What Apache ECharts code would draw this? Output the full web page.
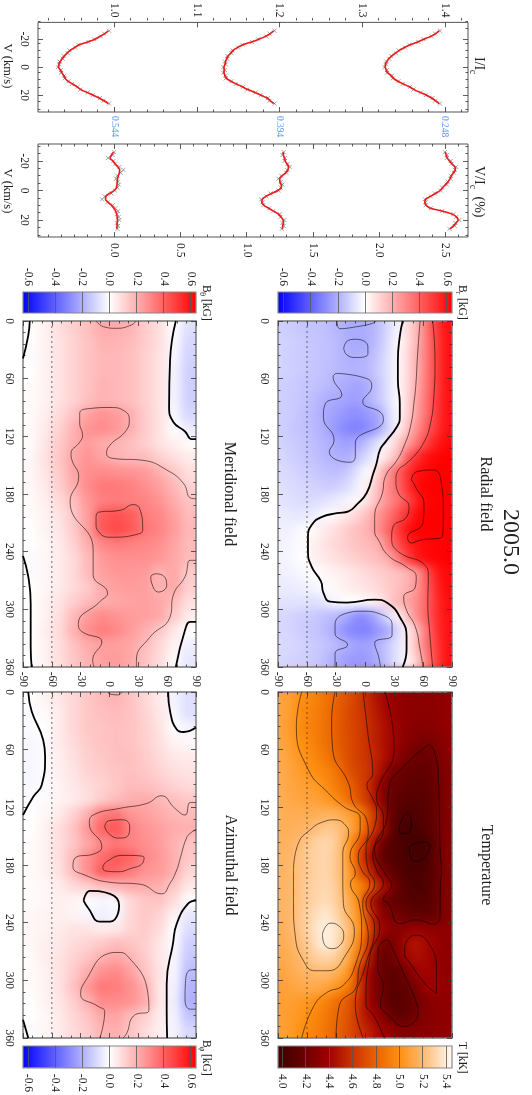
<!DOCTYPE html>
<html>
<head>
<meta charset="utf-8">
<title>2005.0</title>
<script src="https://cdn.jsdelivr.net/npm/echarts@6/dist/echarts.min.js"></script>
<style>
body { margin: 0; background: #fff; }
#heatClip { position: absolute; left: 0; top: 0; width: 532px; height: 1095px;
  clip-path: path('M278 321H452V667H278Z M23 321H196V667H23Z M278 692H452V1038H278Z M23 692H196V1038H23Z'); }
#heat { width: 532px; height: 1095px; filter: blur(5px); }
#main { position: absolute; left: 0; top: 0; width: 532px; height: 1095px; }
</style>
</head>
<body>
<div id="heatClip"><div id="heat"></div></div>
<div id="main"></div>
<script>
// line profiles, velocity in km/s
var velocity = [-26,-24,-22,-20,-18,-16,-14,-12,-10,-8,-6,-4,-2,0,2,4,6,8,10,12,14,16,18,20,22,24,26];
var phaseLabels = ['0.544', '0.394', '0.248'];
var phaseOffsets = [1.0, 1.2, 1.4];

var stokesIFit544 = [.993,.989,.983,.977,.968,.958,.952,.947,.943,.940,.937,.935,.933,.933,.935,.937,.939,.941,.944,.950,.955,.960,.967,.975,.982,.988,.993];
var stokesIFit394 = [1.193,1.189,1.183,1.175,1.166,1.156,1.149,1.144,1.141,1.138,1.136,1.135,1.134,1.133,1.133,1.133,1.134,1.136,1.141,1.148,1.155,1.162,1.170,1.178,1.185,1.189,1.193];
var stokesIFit248 = [1.393,1.389,1.383,1.375,1.367,1.358,1.351,1.345,1.340,1.336,1.332,1.330,1.328,1.328,1.329,1.331,1.335,1.338,1.343,1.350,1.357,1.363,1.370,1.378,1.384,1.389,1.393];
var stokesIObs544 = [.994,.988,.984,.976,.969,.957,.953,.946,.944,.939,.938,.934,.934,.932,.936,.936,.940,.940,.945,.949,.956,.959,.968,.974,.983,.987,.994];
var stokesIObs394 = [1.194,1.188,1.184,1.174,1.167,1.155,1.150,1.143,1.142,1.137,1.137,1.134,1.135,1.132,1.134,1.132,1.135,1.135,1.142,1.147,1.156,1.161,1.171,1.177,1.186,1.188,1.194];
var stokesIObs248 = [1.394,1.388,1.384,1.374,1.368,1.357,1.352,1.344,1.341,1.335,1.333,1.329,1.329,1.327,1.330,1.330,1.336,1.337,1.344,1.349,1.358,1.362,1.371,1.377,1.385,1.388,1.394];

var stokesVFit544 = [-.005,-.02,-.03,-.01,.008,.028,.042,.04,.032,.026,.024,.022,.018,0,-.035,-.062,-.065,-.045,-.02,-.002,.012,.02,.023,.025,.024,.022,.02];
var stokesVFit394 = [1.274,1.278,1.284,1.292,1.304,1.315,1.312,1.295,1.268,1.25,1.25,1.26,1.263,1.235,1.19,1.145,1.118,1.115,1.13,1.165,1.205,1.24,1.26,1.275,1.278,1.272,1.27];
var stokesVFit248 = [2.50,2.505,2.515,2.53,2.55,2.57,2.575,2.56,2.545,2.535,2.52,2.50,2.48,2.46,2.425,2.385,2.35,2.344,2.355,2.385,2.48,2.55,2.585,2.595,2.58,2.56,2.535];
var stokesVObs544 = [0,-.01,-.045,-.005,.01,.04,.07,.05,.025,.015,.03,.035,.025,.005,-.02,-.07,-.09,-.05,-.01,.01,.03,.02,.035,.04,.02,.03,.025];
var stokesVObs394 = [1.28,1.27,1.29,1.285,1.31,1.325,1.305,1.30,1.26,1.24,1.26,1.27,1.255,1.24,1.18,1.15,1.11,1.12,1.125,1.17,1.20,1.25,1.255,1.285,1.27,1.28,1.265];
var stokesVObs248 = [2.495,2.51,2.51,2.54,2.545,2.58,2.57,2.565,2.54,2.54,2.515,2.51,2.475,2.465,2.42,2.39,2.345,2.35,2.35,2.39,2.475,2.56,2.58,2.605,2.575,2.57,2.53];

// maps: one row per 15 deg of longitude (top to bottom in the picture), values run from south to north
var radialField = [
  [-.12,-.13,-.14,-.15,-.15,-.17,-.19,-.21,-.21,-.2,-.16,-.09,-.02,.09,.19,.36,.5,.6],
  [-.11,-.12,-.13,-.14,-.15,-.16,-.18,-.21,-.22,-.2,-.15,-.08,0,.09,.2,.35,.49,.6],
  [-.11,-.12,-.13,-.14,-.15,-.16,-.18,-.2,-.2,-.18,-.13,-.07,.01,.1,.21,.35,.49,.6],
  [-.11,-.12,-.13,-.14,-.15,-.17,-.18,-.19,-.19,-.17,-.12,-.07,.01,.1,.21,.35,.49,.6],
  [-.12,-.13,-.14,-.15,-.16,-.18,-.2,-.22,-.23,-.2,-.14,-.07,.01,.1,.22,.36,.49,.6],
  [-.12,-.13,-.14,-.16,-.19,-.21,-.22,-.24,-.24,-.19,-.14,-.07,0,.11,.24,.37,.5,.6],
  [-.12,-.13,-.15,-.17,-.2,-.23,-.25,-.28,-.28,-.25,-.22,-.09,-.01,.12,.25,.38,.5,.6],
  [-.12,-.14,-.15,-.17,-.19,-.24,-.28,-.31,-.32,-.28,-.22,-.1,.02,.17,.29,.41,.52,.6],
  [-.11,-.13,-.14,-.16,-.18,-.2,-.23,-.24,-.2,-.14,-.06,.02,.14,.24,.36,.49,.57,.62],
  [-.1,-.12,-.13,-.15,-.17,-.19,-.2,-.2,-.13,-.07,.01,.1,.19,.43,.53,.6,.63,.64],
  [-.09,-.1,-.12,-.13,-.15,-.16,-.16,-.12,-.05,0,.13,.27,.4,.52,.6,.62,.64,.64],
  [-.08,-.09,-.1,-.11,-.12,-.13,-.11,-.08,-.02,.05,.18,.3,.39,.52,.62,.64,.64,.64],
  [-.07,-.08,-.09,-.09,-.08,-.06,-.04,-.02,.02,.09,.2,.29,.36,.46,.57,.63,.64,.64],
  [-.05,-.06,-.06,-.05,-.02,.01,.04,.07,.12,.18,.27,.35,.44,.53,.62,.64,.64,.64],
  [-.04,-.03,-.01,.01,.04,.07,.1,.14,.17,.2,.29,.39,.5,.6,.64,.64,.64,.64],
  [-.03,-.02,.01,.03,.06,.09,.11,.14,.16,.18,.2,.34,.45,.55,.6,.62,.63,.64],
  [-.03,-.02,0,.03,.05,.07,.09,.11,.13,.15,.17,.21,.34,.48,.58,.62,.63,.64],
  [-.04,-.03,-.02,-.01,.01,.03,.04,.06,.08,.1,.12,.14,.16,.19,.26,.44,.58,.62],
  [-.05,-.05,-.04,-.03,-.01,.01,.03,.05,.06,.08,.1,.13,.16,.2,.27,.41,.55,.62],
  [-.07,-.07,-.07,-.08,-.07,-.03,-.01,0,.01,.02,.05,.12,.19,.23,.3,.4,.53,.61],
  [-.1,-.11,-.12,-.13,-.15,-.17,-.19,-.24,-.3,-.26,-.18,-.07,.03,.17,.3,.41,.53,.6],
  [-.1,-.11,-.13,-.14,-.16,-.19,-.25,-.3,-.31,-.31,-.25,-.21,-.08,.04,.18,.37,.52,.6],
  [-.09,-.1,-.11,-.13,-.14,-.16,-.19,-.21,-.24,-.23,-.19,-.13,-.06,.04,.2,.37,.5,.6],
  [-.1,-.11,-.12,-.13,-.15,-.19,-.22,-.25,-.26,-.24,-.2,-.13,-.06,.02,.14,.33,.49,.6]
];
var temperature = [
  [5.10,5.05,5.00,4.96,4.91,4.84,4.77,4.71,4.63,4.54,4.45,4.38,4.35,4.33,4.32,4.32,4.33,4.35],
  [5.10,5.05,4.98,4.94,4.90,4.83,4.76,4.69,4.63,4.56,4.48,4.41,4.35,4.33,4.32,4.32,4.33,4.35],
  [5.10,5.03,4.97,4.93,4.89,4.83,4.75,4.69,4.64,4.57,4.50,4.43,4.36,4.32,4.30,4.30,4.32,4.35],
  [5.10,5.05,5.00,4.95,4.89,4.83,4.76,4.70,4.64,4.57,4.50,4.43,4.36,4.30,4.26,4.24,4.28,4.33],
  [5.12,5.07,5.02,4.98,4.92,4.86,4.78,4.70,4.64,4.58,4.52,4.42,4.33,4.24,4.19,4.18,4.24,4.32],
  [5.13,5.09,5.05,5.01,4.97,4.92,4.84,4.72,4.66,4.60,4.47,4.30,4.20,4.17,4.15,4.15,4.21,4.30],
  [5.13,5.10,5.08,5.06,5.02,4.95,4.88,4.80,4.68,4.57,4.38,4.21,4.16,4.14,4.13,4.14,4.20,4.30],
  [5.14,5.11,5.10,5.09,5.07,5.02,4.95,4.84,4.72,4.59,4.38,4.20,4.13,4.10,4.10,4.12,4.19,4.30],
  [5.15,5.14,5.14,5.14,5.15,5.17,5.13,5.08,4.96,4.74,4.52,4.22,4.08,4.06,4.08,4.11,4.19,4.30],
  [5.15,5.15,5.17,5.20,5.24,5.26,5.22,5.12,4.96,4.70,4.52,4.24,4.04,4.01,4.05,4.10,4.19,4.30],
  [5.16,5.18,5.22,5.27,5.31,5.31,5.22,5.02,4.76,4.54,4.28,4.12,4.07,4.03,4.00,4.03,4.17,4.30],
  [5.17,5.20,5.24,5.28,5.31,5.30,5.21,5.00,4.68,4.46,4.19,4.10,4.06,4.03,4.01,4.04,4.17,4.30],
  [5.17,5.20,5.24,5.28,5.31,5.30,5.21,5.06,4.74,4.56,4.33,4.18,4.10,4.05,4.04,4.07,4.17,4.30],
  [5.17,5.20,5.25,5.29,5.31,5.31,5.23,5.04,4.96,4.80,4.54,4.33,4.17,4.07,4.05,4.07,4.17,4.30],
  [5.17,5.20,5.25,5.29,5.33,5.32,5.24,5.12,4.94,4.52,4.30,4.19,4.14,4.10,4.08,4.10,4.18,4.30],
  [5.17,5.20,5.26,5.31,5.37,5.37,5.26,5.15,5.00,4.62,4.36,4.27,4.23,4.17,4.15,4.13,4.19,4.30],
  [5.15,5.19,5.26,5.33,5.40,5.43,5.32,5.19,5.02,4.68,4.44,4.33,4.31,4.34,4.38,4.35,4.34,4.33],
  [5.14,5.17,5.23,5.30,5.39,5.42,5.30,5.15,4.93,4.60,4.27,4.20,4.32,4.45,4.48,4.42,4.36,4.33],
  [5.12,5.15,5.20,5.26,5.30,5.30,5.24,5.08,4.84,4.50,4.18,4.17,4.28,4.41,4.46,4.42,4.35,4.33],
  [5.10,5.13,5.17,5.18,5.20,5.19,5.12,5.00,4.60,4.40,4.22,4.14,4.13,4.26,4.38,4.42,4.37,4.33],
  [5.08,5.10,5.12,5.13,5.11,5.07,5.00,4.88,4.64,4.37,4.24,4.14,4.13,4.17,4.28,4.38,4.40,4.34],
  [5.07,5.07,5.05,5.02,4.97,4.90,4.83,4.73,4.58,4.38,4.24,4.13,4.11,4.13,4.22,4.30,4.33,4.33],
  [5.07,5.06,5.02,4.98,4.93,4.86,4.80,4.72,4.56,4.44,4.36,4.21,4.14,4.16,4.25,4.30,4.32,4.33],
  [5.08,5.05,5.00,4.96,4.91,4.85,4.78,4.70,4.60,4.52,4.42,4.36,4.30,4.28,4.30,4.31,4.33,4.34]
];
var meridionalField = [
  [0,.03,.08,.12,.16,.21,.21,.19,.13,.08,0,-.08],
  [0,.03,.07,.11,.15,.19,.19,.17,.13,.08,-.01,-.1],
  [-.01,.03,.07,.11,.15,.18,.18,.16,.12,.07,-.02,-.11],
  [0,.03,.07,.11,.15,.18,.18,.16,.12,.07,-.03,-.12],
  [.01,.03,.07,.11,.15,.19,.18,.16,.12,.07,-.03,-.12],
  [.01,.03,.07,.11,.16,.19,.18,.16,.12,.07,-.03,-.12],
  [.01,.04,.09,.15,.23,.27,.25,.2,.13,.07,-.02,-.1],
  [.01,.05,.11,.19,.27,.29,.26,.2,.13,.07,0,-.05],
  [.01,.06,.13,.2,.25,.21,.19,.16,.12,.07,.04,.01],
  [.02,.07,.14,.22,.27,.23,.19,.17,.17,.12,.08,.05],
  [.02,.06,.13,.22,.28,.29,.28,.27,.25,.2,.14,.08],
  [.02,.05,.12,.2,.29,.34,.34,.32,.28,.24,.18,.11],
  [.01,.04,.09,.16,.26,.32,.33,.32,.31,.27,.21,.15],
  [.01,.03,.07,.14,.24,.41,.44,.41,.33,.3,.24,.17],
  [0,.03,.06,.13,.24,.42,.46,.42,.35,.31,.25,.18],
  [0,.02,.05,.11,.2,.3,.33,.32,.3,.28,.23,.17],
  [-.01,.02,.05,.09,.17,.25,.28,.28,.28,.26,.22,.17],
  [-.01,.02,.05,.09,.17,.24,.26,.26,.25,.19,.22,.13],
  [0,.02,.05,.09,.13,.21,.24,.25,.24,.19,.22,.12],
  [0,.03,.07,.12,.17,.2,.22,.23,.24,.22,.17,.08],
  [0,.03,.08,.17,.25,.29,.27,.25,.24,.22,.13,.05],
  [0,.04,.09,.19,.28,.33,.3,.25,.2,.14,.06,0],
  [0,.03,.08,.15,.21,.24,.24,.22,.17,.1,.03,-.04],
  [0,.03,.08,.14,.19,.24,.25,.22,.15,.09,.01,-.06]
];
var azimuthalField = [
  [0,.03,.06,.1,.14,.17,.19,.15,.1,.05,-.03,-.08],
  [-.01,.01,.05,.1,.14,.16,.17,.15,.11,.06,-.02,-.08],
  [-.01,0,.05,.1,.14,.15,.16,.15,.12,.07,0,-.03],
  [-.02,-.01,.05,.09,.13,.15,.16,.15,.12,.08,.03,.02],
  [-.02,-.01,.04,.08,.12,.14,.16,.16,.13,.09,.06,.05],
  [-.02,-.01,.04,.07,.11,.13,.15,.16,.14,.11,.08,.07],
  [-.02,-.01,.03,.06,.09,.11,.14,.17,.16,.14,.11,.09],
  [-.01,.01,.03,.05,.08,.13,.17,.2,.21,.18,.16,.14],
  [0,.02,.05,.11,.2,.33,.35,.27,.24,.21,.18,.17],
  [0,.03,.08,.15,.26,.39,.43,.31,.27,.24,.21,.2],
  [.01,.03,.08,.14,.22,.3,.34,.31,.28,.25,.19,.15],
  [.01,.03,.08,.17,.28,.37,.42,.39,.3,.26,.2,.14],
  [.01,.03,.07,.17,.28,.41,.38,.33,.27,.25,.2,.1],
  [.01,.02,.05,.09,.12,.16,.19,.21,.21,.2,.14,.06],
  [.01,.02,.04,.03,-.01,-.02,-.01,.1,.14,.15,.09,0],
  [.02,.03,.04,.03,-.02,-.04,-.02,.1,.14,.11,.03,-.06],
  [.02,.03,.05,.07,.07,.05,.06,.11,.13,.09,0,-.09],
  [.02,.04,.06,.09,.11,.14,.17,.15,.12,.06,-.01,-.12],
  [.01,.04,.07,.11,.15,.2,.23,.19,.13,.06,-.02,-.14],
  [.01,.03,.07,.13,.21,.28,.3,.24,.15,.07,-.02,-.17],
  [.01,.03,.07,.15,.26,.34,.33,.28,.2,.06,-.03,-.19],
  [0,.03,.06,.12,.2,.29,.29,.27,.21,.06,-.04,-.2],
  [0,.02,.05,.1,.15,.22,.23,.17,.12,.05,-.03,-.15],
  [-.01,.02,.05,.09,.13,.19,.2,.15,.09,.04,-.03,-.1]
];

// contours as [latitude, longitude]
var radialThick = [
  [[39,0],[36,16],[34,41],[34,61],[36,86],[36,100],[33,110],[21,126],[15.5,134],[12,148],[8.6,158.5],[1.7,179],[-8.6,191],[-17,198],[-29,200],[-45,204],[-55,212],[-59,224],[-59,240],[-55,256],[-45.5,271],[-43,283],[-36,292],[-19,293],[10,290],[24,294],[36,308],[43,328],[43,342],[39,360]]
];
var radialThin = [
  [[57,0],[54,41],[53,61],[51,82],[47,110],[40,131],[33,145],[21,162],[18,179],[10,204],[10,219],[14,228],[24,244],[43,256],[53,266],[52,277],[40,287],[43,301],[52,318],[57,342],[60,360]],
  [[70,0],[72.4,41],[71,82],[67,110],[62,124],[53,138],[43,148],[34,156],[32,165],[34.5,179],[45.5,193],[43,204],[29,214],[27.6,226],[34.5,240],[62,254],[65.5,266],[65,294],[67,325],[70,360]],
  [[48,165],[53,157],[71,155],[79,169],[81,197],[80,224],[57,228],[48,231],[44,225],[60,210],[61,190],[53,174],[48,165]],
  [[-29,0],[-26,8],[-9,6],[8,2.4],[11,0]],
  [[-31,360],[-31,346],[-18,337],[-31,325],[-31,316],[-19,304],[-2,302],[16,305],[28,316],[28,327],[10,335],[14,349],[16,360]],
  [[-22,28],[-17,20],[-9,19],[3,27],[3,34],[-9,38],[-19,35],[-22,28]],
  [[-30,54.5],[-33,58],[-24,77],[-41,86],[-43,100],[-32,124],[-37,136],[-15.5,147],[-10,141],[-10,127],[19,103],[17,96],[-2.4,84],[7,68],[2,60],[-30,54.5]]
];
var meridionalThick = [
  [[69,0],[63,41],[62,89],[66.4,105],[78.6,115],[85.5,123],[90,123]],
  [[-83,0],[-84.5,15],[-90,39]],
  [[-90,244.5],[-84.5,266],[-82,294],[-82,339],[-81,360]],
  [[90,313],[84,313],[78.6,321.6],[69,360]]
];
var meridionalThin = [
  [[-14,0],[-6,6],[7.5,7.6],[23,4],[27.6,0]],
  [[-16,360],[-17.5,353],[-8,334],[-29,323],[-32.4,315],[-10,292],[-2,283],[-17,264],[-17,238],[-41,188],[-32,162],[-39,145],[-40,138],[-31,126],[-28,119],[-31,106],[-31,96],[-20,91],[0.5,90],[16,94],[20.6,103],[18,113],[-1,131],[-3,138],[4,143],[35,145],[59.5,155],[77,169],[84,184],[90,185]],
  [[90,249],[84,249],[78.6,266],[66.4,285],[63,308],[42,329],[28,353],[28,360]],
  [[48,263],[56,265],[59.5,275],[51,282],[44,273],[43,266],[48,263]],
  [[-14,204],[-11.6,199],[11,197],[25,191],[32,197],[34.5,216],[32,221],[0.5,225],[-11.6,219],[-14,210],[-14,204]]
];
var azimuthalThick = [
  [[-84.5,0],[-81,20],[-69,50],[-67,67],[-70.6,97],[-79,108.5],[-90,128]],
  [[61,0],[63,20],[70,39],[77,41.6],[90,37]],
  [[-90,341],[-84.5,360]],
  [[90,217],[82,220],[70,241],[66,262],[59.5,303.5],[59.5,331],[60,360]],
  [[-27,217],[-20,207],[0.5,210],[10,222],[9,230],[0.5,239],[-10,239],[-22,225],[-27,217]]
];
var azimuthalThin = [
  [[-1,0],[0,2],[9.5,3],[12.6,0]],
  [[90,115],[84,115],[78.6,128],[68,121],[54,108],[38.7,116],[11,121],[-17,128],[-21,137],[-8,161],[-15,168],[-36,173],[-38,182],[-25.5,190.5],[0.5,198],[32,200],[54,210],[63,199],[70,185],[73,175],[80,152],[84,147],[90,143]],
  [[-5,140],[-1,134],[14,133],[21,140],[19.6,149],[9,152],[-1,147],[-5,140]],
  [[-7,182],[-3,176.5],[14,170],[36,172],[34.5,178],[21,184],[9,187],[-5,186],[-7,182]],
  [[-10,360],[-5,332.6],[-12,327],[-30,315],[-26.5,303],[-1,272],[9,271],[18,274],[40,314],[41,331],[25,337],[18,355],[14,360]],
  [[90,289],[84,289.3],[79,303],[78.6,320],[84,330],[90,330]]
];
var temperatureThin = [
  [[-65.5,0],[-71,36],[-58.6,81],[-38,105],[-22.4,119],[-5,131],[-5,143.6],[-15.5,171],[-10,189],[-15,199],[-6,220],[-3.5,249],[-10,284],[-22.4,305],[-40,313],[-53.4,327.5],[-65.5,360]],
  [[-31,0],[-34.5,29],[-33.4,60],[-17,95],[-12,116],[1.7,133],[3.4,147],[-7,171],[-3.5,185],[5,199],[-2.4,220],[3.4,254.6],[-6,286],[-8.6,306],[-26.5,326],[-30,360]],
  [[-2,0],[3.4,46.5],[8,84.6],[2,97],[7,109],[12,123],[10,140],[1,164],[3.4,185],[10,199],[1,220],[10,244],[0,286],[-10,324],[-8.6,338],[-2,360]],
  [[20.7,0],[29,39.5],[30,60],[14,98.5],[12,110.6],[19,130],[19,143.6],[8,168],[12,185],[19,199],[6,220],[15.5,244],[5,275],[1,324],[10,338],[20,360]],
  [[66.5,54],[72.4,64],[76,91.6],[77.6,161],[79,189],[78,199],[77.6,234],[70.7,241.5],[53.4,237],[36,241],[24,220],[19,216],[27.6,201],[20.7,189],[10,164],[22.4,133],[25,98.5],[39.7,77.7],[66.5,54]],
  [[35.5,140],[39.7,130],[44,127],[48,135],[43,147],[36,147],[35.5,140]],
  [[45.5,161],[60,156],[67,160],[65.5,167],[53,176],[46.5,171],[45.5,161]],
  [[14,265],[22.4,258],[29,268.5],[40,293],[53.4,324],[55,334],[40,348],[26,338],[16,324],[19,306.6],[13,286],[14,265]],
  [[41,265],[45.5,256],[53,253],[67,263],[74,289],[74,313.6],[63.4,305],[46.5,282],[41,272],[41,265]],
  [[-74,185],[-69,157.5],[-57,143.6],[-43,135],[-31,133],[-19,140],[-17,147],[-23,168],[-23,189],[-22.4,220],[-11,248],[-19,272],[-38,290],[-52,290],[-64,279],[-72,255],[-74,220],[-74,185]],
  [[-44,251.5],[-36,240.5],[-27.5,243],[-22,253],[-26,263.6],[-34.5,267],[-43,260],[-44,251.5]]
];

var dashedLatitude = -60;
var phaseLongitudes = [164, 218, 270];

// tick labels and tick marks
var lonTicks = [0,60,120,180,240,300,360];
var lonMinor = [12,24,36,48,72,84,96,108,132,144,156,168,192,204,216,228,252,264,276,288,312,324,336,348];
var latTicks = [-90,-60,-30,0,30,60,90];
var latMinor = [-80,-70,-50,-40,-20,-10,10,20,40,50,70,80];
var velTicks = [-20,0,20];
var velMinor = [-30,-25,-15,-10,-5,5,10,15,25,30];
var iTicks = [1.0,1.1,1.2,1.3,1.4];
var iMinor = [.92,.94,.96,.98,1.02,1.04,1.06,1.08,1.12,1.14,1.16,1.18,1.22,1.24,1.26,1.28,1.32,1.34,1.36,1.38,1.42];
var vTicks = [0,0.5,1.0,1.5,2.0,2.5];
var vMinor = [-.5,-.4,-.3,-.2,-.1,.1,.2,.3,.4,.6,.7,.8,.9,1.1,1.2,1.3,1.4,1.6,1.7,1.8,1.9,2.1,2.2,2.3,2.4,2.6];
var fieldBarTicks = [-0.6,-0.4,-0.2,0,0.2,0.4,0.6];
var tempBarTicks = [4.0,4.2,4.4,4.6,4.8,5.0,5.2,5.4];

var fieldColors = ['#0000ff', '#ffffff', '#ff0000'];
var tempColors = ['#420000', '#6c0000', '#a00000', '#cb3300', '#e86200', '#ff9010', '#ffb970', '#ffeedd'];

var serif = '"Liberation Serif", "DejaVu Serif", serif';
var ink = '#222';

var option = {animation: false, grid: [], xAxis: [], yAxis: [], series: [], graphic: []};

function oneAxis(target, gridIndex, position, range, inverse, ticks, length, label, color) {
    target.push({
        type: 'value', gridIndex: gridIndex, position: position,
        min: range[0], max: range[1], inverse: inverse,
        axisLine: {show: false, onZero: false},
        splitLine: {show: false},
        axisTick: {show: true, inside: true, length: length, lineStyle: {color: color, width: 0.8}, customValues: ticks},
        axisLabel: label ? {
            // echarts turns labels of a top axis the other way round
            show: true, customValues: ticks, rotate: position === 'top' ? 90 : -90, margin: label.margin, color: ink,
            fontFamily: serif, fontSize: label.size || 11.5,
            formatter: function (v) { return label.digits ? v.toFixed(label.digits) : String(v); }
        } : {show: false}
    });
}

// a frame with ticks on all four sides, the minor ticks sit on a second grid in the same place
function addPanel(box, x, y) {
    var first = option.xAxis.length;
    var color = box.tickColor || '#333';
    option.grid.push({left: box.left, top: box.top, width: box.width, height: box.height, show: true,
        borderColor: box.border || '#555', borderWidth: box.borderWidth || 1, backgroundColor: box.fill || 'transparent'});
    var g = option.grid.length - 1;
    var xLabelSide = x.side || 'bottom';
    oneAxis(option.xAxis, g, xLabelSide, x.range, false, x.major, x.length || 5, x.label, color);
    oneAxis(option.xAxis, g, xLabelSide === 'top' ? 'bottom' : 'top', x.range, false, x.length ? [] : x.major, x.length || 5, null, color);
    oneAxis(option.yAxis, g, 'left', y.range, y.inverse, y.major, 5, y.label, color);
    oneAxis(option.yAxis, g, 'right', y.range, y.inverse, y.major, 5, null, color);
    if (x.minor) {
        option.grid.push({left: box.left, top: box.top, width: box.width, height: box.height});
        g = option.grid.length - 1;
        oneAxis(option.xAxis, g, 'top', x.range, false, x.minor, 2.5, null, color);
        oneAxis(option.xAxis, g, 'bottom', x.range, false, x.minor, 2.5, null, color);
        oneAxis(option.yAxis, g, 'left', y.range, y.inverse, y.minor, 2.5, null, color);
        oneAxis(option.yAxis, g, 'right', y.range, y.inverse, y.minor, 2.5, null, color);
    }
    return first;
}

function addText(text, x, y, size, align, color) {
    option.graphic.push({type: 'text', x: x, y: y, rotation: -Math.PI / 2, silent: true,
        style: {text: text, fill: color || ink, fontFamily: serif, fontSize: size, textAlign: align || 'center', textVerticalAlign: 'middle'}});
}

function addProfiles(axisIndex, fits, observed) {
    fits.forEach(function (fit, k) {
        option.series.push({
            type: 'scatter', xAxisIndex: axisIndex, yAxisIndex: axisIndex, silent: true,
            symbol: 'path://M0 0L10 10M10 0L0 10', symbolSize: 4,
            itemStyle: {color: 'transparent', borderColor: '#444', borderWidth: 0.6},
            data: velocity.map(function (v, i) { return [observed[k][i], v]; })
        });
        option.series.push({
            type: 'line', xAxisIndex: axisIndex, yAxisIndex: axisIndex, silent: true, showSymbol: false,
            smooth: 0.3, lineStyle: {color: '#f01818', width: 1.6}, z: 5,
            data: velocity.map(function (v, i) { return [fit[i], v]; })
        });
    });
}

function addContours(axisIndex, lines, width, color) {
    lines.forEach(function (line) {
        option.series.push({
            type: 'line', xAxisIndex: axisIndex, yAxisIndex: axisIndex, silent: true, showSymbol: false,
            smooth: 0.5, lineStyle: {color: color, width: width}, data: line
        });
    });
}

function addMap(box, thick, thin, latLabels) {
    var idx = addPanel(
        {left: box.left, top: box.top, width: box.width, height: 346, border: '#777', borderWidth: 1.4},
        {range: [-90, 90], major: latTicks, minor: latMinor, side: 'top', label: latLabels ? {margin: 5} : null},
        {range: [0, 360], inverse: true, major: lonTicks, minor: lonMinor, label: {margin: 8}}
    );
    addContours(idx, thick, 1.8, '#000');
    addContours(idx, thin, 0.7, 'rgba(0,0,0,0.8)');
    option.series.push({
        type: 'line', xAxisIndex: idx, yAxisIndex: idx, silent: true, showSymbol: false,
        lineStyle: {color: '#333', width: 0.7, type: [2, 3]},
        data: [[dashedLatitude, 0], [dashedLatitude, 360]]
    });
    phaseLongitudes.forEach(function (lon) {
        option.series.push({
            type: 'line', xAxisIndex: idx, yAxisIndex: idx, silent: true, showSymbol: false, clip: false,
            lineStyle: {color: '#111', width: 1.3},
            data: [[97, lon], [111, lon]]
        });
    });
}

function gradient(colors, from, to, barMin, barMax) {
    var step = (to - from) / (colors.length - 1);
    var stops = colors.map(function (c, i) {
        return {offset: (from + i * step - barMin) / (barMax - barMin), color: c};
    });
    if (stops[0].offset > 0) stops.unshift({offset: 0, color: colors[0]});
    if (stops[stops.length - 1].offset < 1) stops.push({offset: 1, color: '#ffffff'});
    return new echarts.graphic.LinearGradient(0, 0, 1, 0, stops);
}

function addBar(box, range, ticks, side, fill, digits) {
    addPanel(
        {left: box.left, top: box.top, width: box.width, height: box.height, border: '#888', borderWidth: 1.2, fill: fill, tickColor: '#555'},
        {range: range, major: ticks, side: side, length: box.height, label: {margin: 6, digits: digits}},
        {range: [0, 1], major: []}
    );
}

// top row: line profiles
var idxI = addPanel(
    {left: 38, top: 18, width: 430, height: 94},
    {range: [0.908, 1.428], major: iTicks, minor: iMinor, side: 'top', label: {margin: 5, digits: 1}},
    {range: [-32, 32], inverse: true, major: velTicks, minor: velMinor, label: {margin: 8}}
);
addProfiles(idxI, [stokesIFit544, stokesIFit394, stokesIFit248], [stokesIObs544, stokesIObs394, stokesIObs248]);
option.series.push({
    type: 'scatter', xAxisIndex: idxI, yAxisIndex: idxI, silent: true, clip: false,
    symbolSize: 1, itemStyle: {color: 'transparent'},
    label: {show: true, position: 'inside', rotate: -90, color: '#2a80ff', fontFamily: serif, fontSize: 9.5,
        formatter: function (p) { return phaseLabels[p.dataIndex]; }},
    data: phaseOffsets.map(function (o) { return [o, 42.4]; })
});

var idxV = addPanel(
    {left: 38, top: 144, width: 430, height: 93},
    {range: [-0.574, 2.67], major: vTicks, minor: vMinor, side: 'bottom', label: {margin: 6, digits: 1}},
    {range: [-31.5, 31.5], inverse: true, major: velTicks, minor: velMinor, label: {margin: 8}}
);
addProfiles(idxV, [stokesVFit544, stokesVFit394, stokesVFit248], [stokesVObs544, stokesVObs394, stokesVObs248]);

// maps and colour bars
addMap({left: 278, top: 321, width: 174}, radialThick, radialThin, false);
addMap({left: 23, top: 321, width: 173}, meridionalThick, meridionalThin, false);
addMap({left: 278, top: 692, width: 174}, [], temperatureThin, true);
addMap({left: 23, top: 692, width: 173}, azimuthalThick, azimuthalThin, true);

var fieldRange = [-0.64, 0.64];
var tempRange = [3.965, 5.45];
addBar({left: 278, top: 292, width: 174, height: 21}, fieldRange, fieldBarTicks, 'top', gradient(fieldColors, -0.64, 0.64, -0.64, 0.64), 1);
addBar({left: 23, top: 292, width: 173, height: 21}, fieldRange, fieldBarTicks, 'top', gradient(fieldColors, -0.64, 0.64, -0.64, 0.64), 1);
addBar({left: 278, top: 1046, width: 174, height: 22}, tempRange, tempBarTicks, 'bottom', gradient(tempColors, 4.0, 5.4, 3.965, 5.45), 1);
addBar({left: 23, top: 1046, width: 173, height: 22}, fieldRange, fieldBarTicks, 'bottom', gradient(fieldColors, -0.64, 0.64, -0.64, 0.64), 1);

// texts
addText('2005.0', 510, 542, 24);
addText('Radial field', 485, 494, 16);
addText('Meridional field', 229, 494, 16);
addText('Temperature', 486, 865, 16);
addText('Azimuthal field', 230, 865, 16);
addText('V (km/s)', 7, 66, 12.5);
addText('V (km/s)', 7, 191, 12.5);
addText('I/I', 479, 57, 14, 'left');
addText('c', 473, 72, 10);
addText('V/I', 479, 166, 14, 'left');
addText('c', 473, 187, 10);
addText('(%)', 479, 207, 14);
addText('B', 462, 285, 11.5, 'left');
addText('r', 458, 293, 8.5);
addText('[kG]', 462, 298, 11.5, 'left');
addText('B', 206, 285, 11.5, 'left');
addText('\u03b8', 202, 294, 8.5);
addText('[kG]', 206, 299, 11.5, 'left');
addText('T [kK]', 462, 1042, 11.5, 'left');
addText('B', 206, 1040, 11.5, 'left');
addText('\u03c6', 202, 1049, 8.5);
addText('[kG]', 206, 1054, 11.5, 'left');

echarts.init(document.getElementById('main')).setOption(option);

// smooth colour layer under the frames, the css blur on #heat acts as the image interpolation
function heatCells(rows) {
    var dLon = 360 / rows.length, dLat = 180 / rows[0].length, cells = [];
    rows.forEach(function (row, i) {
        row.forEach(function (val, j) {
            cells.push([-90 + (j + 0.5) * dLat, (i + 0.5) * dLon, val]);
        });
    });
    return {cells: cells, dLat: dLat, dLon: dLon};
}

var heatPanels = [
    {left: 278, top: 321, width: 174, rows: radialField, low: -0.64, high: 0.64, colors: fieldColors},
    {left: 23, top: 321, width: 173, rows: meridionalField, low: -0.64, high: 0.64, colors: fieldColors},
    {left: 278, top: 692, width: 174, rows: temperature, low: 4.0, high: 5.4, colors: tempColors},
    {left: 23, top: 692, width: 173, rows: azimuthalField, low: -0.64, high: 0.64, colors: fieldColors}
];
var heatOption = {animation: false, grid: [], xAxis: [], yAxis: [], series: [], visualMap: []};

heatPanels.forEach(function (p, n) {
    var h = heatCells(p.rows);
    heatOption.grid.push({left: p.left, top: p.top, width: p.width, height: 346});
    heatOption.xAxis.push({type: 'value', gridIndex: n, min: -90, max: 90, show: false});
    heatOption.yAxis.push({type: 'value', gridIndex: n, min: 0, max: 360, inverse: true, show: false});
    heatOption.visualMap.push({type: 'continuous', show: false, seriesIndex: n, dimension: 2, min: p.low, max: p.high, inRange: {color: p.colors}});
    heatOption.series.push({
        type: 'custom', xAxisIndex: n, yAxisIndex: n, silent: true, data: h.cells,
        encode: {x: 0, y: 1},
        renderItem: function (params, api) {
            var lat = api.value(0), lon = api.value(1);
            var c = api.coord([lat, lon]), s = api.size([h.dLat, h.dLon]);
            var x0 = c[0] - s[0] / 2 - 0.5, x1 = c[0] + s[0] / 2 + 0.5;
            var y0 = c[1] - s[1] / 2 - 0.5, y1 = c[1] + s[1] / 2 + 0.5;
            // edge cells run past the frame so the blur does not fade at the border
            if (lat - h.dLat < -90) x0 -= 20;
            if (lat + h.dLat > 90) x1 += 20;
            if (lon - h.dLon < 0) y0 -= 20;
            if (lon + h.dLon > 360) y1 += 20;
            return {type: 'rect', shape: {x: x0, y: y0, width: x1 - x0, height: y1 - y0}, style: {fill: api.visual('color')}};
        }
    });
});
echarts.init(document.getElementById('heat')).setOption(heatOption);
</script>
</body>
</html>
